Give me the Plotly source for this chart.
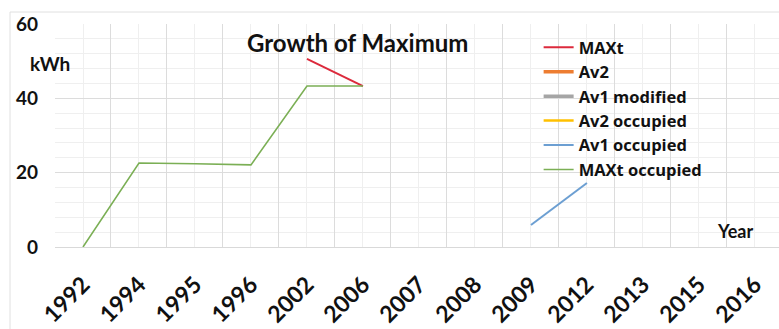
import plotly.graph_objects as go

# Category axis: survey years
years = ["1992", "1994", "1995", "1996", "2002", "2006", "2007",
         "2008", "2009", "2012", "2013", "2015", "2016"]

# Series values in kWh (None where a series has no reading)
maxt = [None, None, None, None, 50.6, 43.3, None, None, None, None, None, None, None]
av2 = [None] * 13
av1_modified = [None] * 13
av2_occupied = [None] * 13
av1_occupied = [None, None, None, None, None, None, None, None, 5.9, 17.2, None, None, None]
maxt_occupied = [0, 22.6, 22.4, 22.1, 43.3, 43.3, None, None, None, None, None, None, None]

series = [
    ("MAXt", maxt, "#dc2a3c", 2),
    ("Av2", av2, "#ED7D31", 3.5),
    ("Av1 modified", av1_modified, "#A5A5A5", 3.5),
    ("Av2 occupied", av2_occupied, "#FFC000", 2.5),
    ("Av1 occupied", av1_occupied, "#6C9FD2", 2),
    ("MAXt occupied", maxt_occupied, "#7BAF55", 1.6),
]

idx = list(range(len(years)))
bounds = [i - 0.5 for i in range(len(years) + 1)]
FONT = "Lato"
INK = "#111111"

fig = go.Figure()
for name, vals, color, w in series:
    fig.add_trace(go.Scatter(x=idx, y=vals, mode="lines", name=name,
                             line=dict(color=color, width=w),
                             connectgaps=False))
# carrier for the boundary grid axis
fig.add_trace(go.Scatter(x=[], y=[], xaxis="x2", showlegend=False,
                         hoverinfo="skip"))

x_range = [-0.5, 12.43]

fig.update_layout(
    width=779, height=329,
    margin=dict(l=55, r=0, t=24, b=82),
    paper_bgcolor="white", plot_bgcolor="white",
    font=dict(family=FONT, color=INK),
    showlegend=True,
    legend=dict(x=0.668, y=1 - (30 - 24) / 223, xanchor="left", yanchor="top",
                bgcolor="rgba(0,0,0,0)", borderwidth=0, maxheight=320,
                font=dict(family="Open Sans", size=16.5, color=INK, weight="bold"),
                tracegroupgap=0, itemwidth=30),
    xaxis=dict(range=x_range, tickmode="array", tickvals=idx, ticktext=years,
               tickangle=-45, showgrid=True, gridcolor="#efefef", gridwidth=1,
               ticks="", zeroline=False, showline=True, linecolor="#d9d9d9",
               ticklabelstandoff=14, automargin=False,
               tickfont=dict(family=FONT, size=23, color=INK, weight="bold")),
    xaxis2=dict(range=x_range, overlaying="x", anchor="y", side="bottom",
                tickmode="array", tickvals=bounds, showticklabels=False,
                ticks="", showgrid=True, gridcolor="#dcdcdc", gridwidth=1,
                zeroline=False, showline=False, automargin=False),
    yaxis=dict(range=[0, 60], tickmode="linear", tick0=0, dtick=20,
               showgrid=True, gridcolor="#dcdcdc", gridwidth=1,
               zeroline=False, ticks="", ticklabelstandoff=16, automargin=False,
               minor=dict(dtick=4, showgrid=True, gridcolor="#efefef"),
               tickfont=dict(family=FONT, size=19, color=INK, weight="bold")),
    annotations=[
        dict(text="Growth of Maximum", xref="paper", yref="paper",
             x=(357 - 55) / 724, y=1 - (42 - 24) / 223,
             xanchor="center", yanchor="middle", showarrow=False,
             font=dict(family=FONT, size=24, color=INK, weight="bold")),
        dict(text="kWh", xref="paper", yref="paper",
             x=(50 - 55) / 724, y=1 - (64 - 24) / 223,
             xanchor="center", yanchor="middle", showarrow=False,
             font=dict(family=FONT, size=19, color=INK, weight="bold")),
        dict(text="Year", xref="paper", yref="paper",
             x=(735 - 55) / 724, y=1 - (231 - 24) / 223,
             xanchor="center", yanchor="middle", showarrow=False,
             font=dict(family=FONT, size=18, color=INK, weight="bold")),
    ],
    shapes=[
        dict(type="rect", xref="paper", yref="paper",
             x0=(10 - 55) / 724, x1=1.02, y0=-0.45, y1=1 + (24 - 12) / 223,
             line=dict(color="#e0e0e0", width=1), layer="below"),
    ],
)

fig.write_html("out.html")
